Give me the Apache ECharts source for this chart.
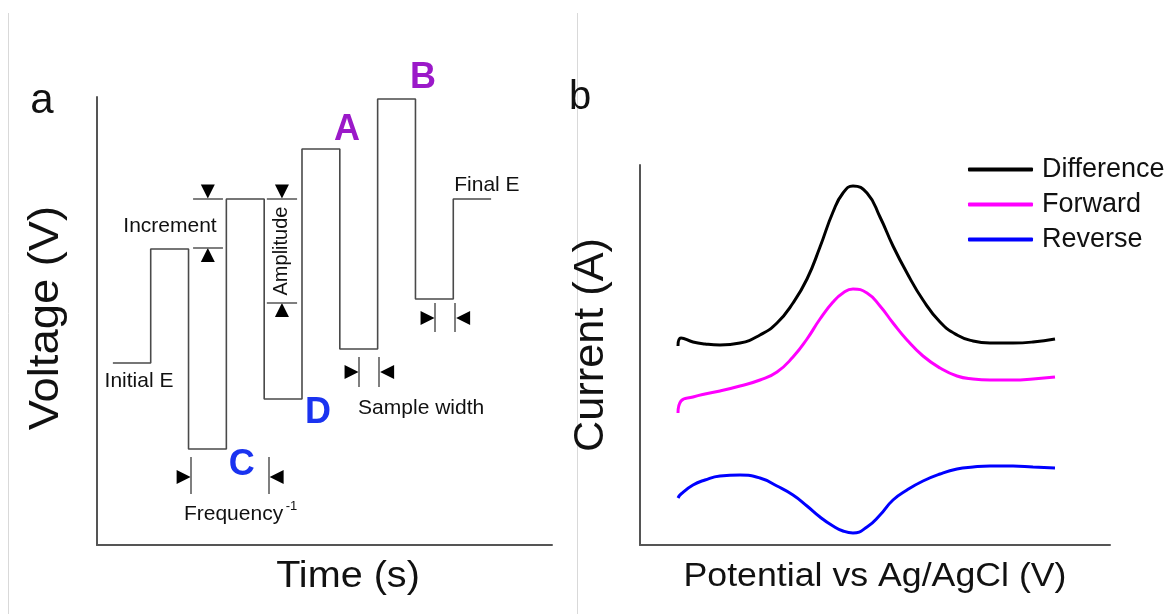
<!DOCTYPE html>
<html lang="en">

<head>
    <meta charset="UTF-8">
    <title>Square wave voltammetry</title>
    <script src="https://cdn.jsdelivr.net/npm/echarts@6/dist/echarts.min.js"></script>
    <style>
        body,
        html {
            background-color: #fff;
            width: 100%;
            height: 100%;
            margin: 0;
        }
    </style>
</head>

<body>
    <div id="main" style="width: 1173px; height: 614px;"></div>
    <script>
        // (a) square wave: step start time and voltage level
        var stepTime = [0, 1, 2, 3, 4, 5, 6, 7, 8, 9, 10];
        var stepLevel = [1.72, 4, 0, 5, 1, 6, 2, 7, 3, 5, 5];

        // (b) voltammogram, arbitrary units
        var potential = [3.8, 4.1, 5.3, 6.5, 8.0, 10.0, 12.0, 13.7, 15.3, 16.7, 18.0, 19.3, 20.3,
            21.3, 22.7, 24.0, 25.3, 26.7, 28.3, 30.0, 31.7, 33.3, 35.0, 37.3, 39.3, 41.5];
        var difference = [19.9, 20.7, 20.3, 20.1, 20.0, 20.2, 21.0, 22.2, 24.2, 26.6, 29.8, 33.3, 35.2,
            35.9, 35.2, 32.8, 29.9, 27.2, 24.5, 22.3, 21.0, 20.4, 20.2, 20.2, 20.3, 20.6];
        var forward = [13.2, 14.4, 14.8, 15.1, 15.4, 15.9, 16.5, 17.3, 18.8, 20.6, 22.6, 24.3, 25.2,
            25.6, 25.2, 23.9, 22.2, 20.5, 18.9, 17.7, 16.9, 16.6, 16.5, 16.5, 16.6, 16.8];
        var reverse = [4.7, 5.1, 6.0, 6.5, 6.9, 7.0, 6.7, 5.9, 5.0, 3.9, 2.8, 1.9, 1.4,
            1.2, 1.8, 3.0, 4.5, 5.5, 6.4, 7.1, 7.6, 7.8, 7.9, 7.9, 7.8, 7.7];

        // annotations on (a): [time, voltage, text]
        var notes = [
            [1.51, 4.46, 'Increment'],
            [0.69, 1.36, 'Initial E'],
            [9.89, 5.28, 'Final E'],
            [8.15, 0.82, 'Sample width'],
            [3.19, -1.30, 'Frequency']
        ];
        var supNotes = [[4.72, -1.15, '-1']];
        var amplitudeNote = [[4.47, 3.96, 'Amplitude']];
        var purpleLetters = [[6.19, 6.38, 'A'], [8.2, 7.42, 'B']];
        var blueLetters = [[3.41, -0.32, 'C'], [5.42, 0.72, 'D']];

        // guide segments [t1, v1, t2, v2]
        var guides = [
            [2.12, 5.0, 2.91, 5.0], [2.12, 4.02, 2.91, 4.02],
            [4.07, 5.0, 4.87, 5.0], [4.07, 2.92, 4.87, 2.92],
            [2.06, -0.16, 2.06, -0.9], [4.13, -0.16, 4.13, -0.9],
            [6.51, 1.84, 6.51, 1.24], [7.04, 1.84, 7.04, 1.24],
            [8.52, 2.92, 8.52, 2.34], [9.05, 2.92, 9.05, 2.34]
        ];
        // arrow heads
        var arrowDown = [[2.51, 5.15], [4.47, 5.15]];
        var arrowUp = [[2.51, 3.88], [4.47, 2.78]];
        var arrowRight = [[1.87, -0.56], [6.31, 1.54], [8.32, 2.62]];
        var arrowLeft = [[4.33, -0.56], [7.25, 1.54], [9.26, 2.62]];

        var font = 'Liberation Sans, Arial, sans-serif';

        function zip(xs, ys) {
            return xs.map(function (x, i) { return [x, ys[i]]; });
        }

        function textSeries(data, label) {
            return {
                type: 'scatter',
                xAxisIndex: 0,
                yAxisIndex: 0,
                silent: true,
                clip: false,
                symbolSize: 1,
                itemStyle: { color: 'rgba(0,0,0,0)', opacity: 1 },
                data: data,
                label: Object.assign({
                    show: true,
                    position: 'inside',
                    color: '#111',
                    fontSize: 21,
                    fontFamily: font,
                    formatter: function (p) { return p.data[2]; }
                }, label)
            };
        }

        function arrowSeries(data, rotate) {
            return {
                type: 'scatter',
                xAxisIndex: 0,
                yAxisIndex: 0,
                silent: true,
                clip: false,
                symbol: 'triangle',
                symbolSize: [14, 14],
                symbolRotate: rotate,
                itemStyle: { color: '#000', opacity: 1 },
                data: data
            };
        }

        function plainAxis(grid, min, max) {
            return {
                type: 'value',
                gridIndex: grid,
                min: min,
                max: max,
                axisLine: { show: true, onZero: false, lineStyle: { color: '#555', width: 2 } },
                axisTick: { show: false },
                axisLabel: { show: false },
                splitLine: { show: false }
            };
        }

        function curve(name, values, color) {
            return {
                name: name,
                type: 'line',
                xAxisIndex: 1,
                yAxisIndex: 1,
                smooth: 0.5,
                smoothMonotone: 'none',
                symbol: 'none',
                lineStyle: { color: color, width: 3 },
                itemStyle: { color: color },
                data: zip(potential, values)
            };
        }

        function label(text, x, y, size, rot, sx) {
            return {
                type: 'text', x: x, y: y, rotation: rot || 0, scaleX: sx || 1,
                style: { text: text, font: size + 'px ' + font, fill: '#111', textAlign: 'center', textVerticalAlign: 'middle' }
            };
        }

        var option = {
            animation: false,
            backgroundColor: '#fff',
            grid: [
                { left: 97, top: 97, width: 455, height: 448 },
                { left: 640, top: 165, width: 470, height: 380 }
            ],
            xAxis: [plainAxis(0, -0.42, 11.61), plainAxis(1, 0, 47)],
            yAxis: [plainAxis(0, -1.92, 7.04), plainAxis(1, 0, 38)],
            legend: {
                data: ['Difference', 'Forward', 'Reverse'],
                orient: 'vertical',
                left: 963,
                top: 151,
                itemWidth: 65,
                itemHeight: 4,
                itemGap: 8,
                icon: 'roundRect',
                textStyle: { fontSize: 27, color: '#111', fontFamily: font, padding: [0, 0, 0, 4] }
            },
            graphic: [
                { type: 'line', shape: { x1: 8.5, y1: 13, x2: 8.5, y2: 614 }, style: { stroke: '#d9d9d9', lineWidth: 1 } },
                { type: 'line', shape: { x1: 577.5, y1: 13, x2: 577.5, y2: 614 }, style: { stroke: '#d9d9d9', lineWidth: 1 } },
                label('a', 42, 101, 42),
                label('b', 580, 98, 40),
                label('Voltage (V)', 46, 318, 42, Math.PI / 2, 1.08),
                label('Current (A)', 591, 345, 42, Math.PI / 2, 1.03),
                label('Time (s)', 348, 577, 36, 0, 1.1),
                label('Potential vs Ag/AgCl (V)', 875, 577, 34, 0, 1.05)
            ],
            series: [
                {
                    type: 'line',
                    xAxisIndex: 0,
                    yAxisIndex: 0,
                    step: 'end',
                    symbol: 'none',
                    silent: true,
                    lineStyle: { color: '#4a4a4a', width: 1.6 },
                    data: zip(stepTime, stepLevel),
                    markLine: {
                        silent: true,
                        symbol: 'none',
                        label: { show: false },
                        lineStyle: { color: '#555', width: 1.5, type: 'solid' },
                        data: guides.map(function (g) {
                            return [{ coord: [g[0], g[1]] }, { coord: [g[2], g[3]] }];
                        })
                    }
                },
                arrowSeries(arrowDown, 180),
                arrowSeries(arrowUp, 0),
                arrowSeries(arrowRight, -90),
                arrowSeries(arrowLeft, 90),
                textSeries(notes, {}),
                textSeries(supNotes, { fontSize: 13 }),
                textSeries(amplitudeNote, { rotate: 90, fontSize: 20 }),
                textSeries(purpleLetters, { color: '#9b19c9', fontSize: 36, fontWeight: 'bold' }),
                textSeries(blueLetters, { color: '#1a33f0', fontSize: 36, fontWeight: 'bold' }),
                curve('Difference', difference, '#000000'),
                curve('Forward', forward, '#ff00ff'),
                curve('Reverse', reverse, '#0000ff')
            ]
        };

        var myChart = echarts.init(document.getElementById('main'));
        myChart.setOption(option);
    </script>
</body>

</html>
